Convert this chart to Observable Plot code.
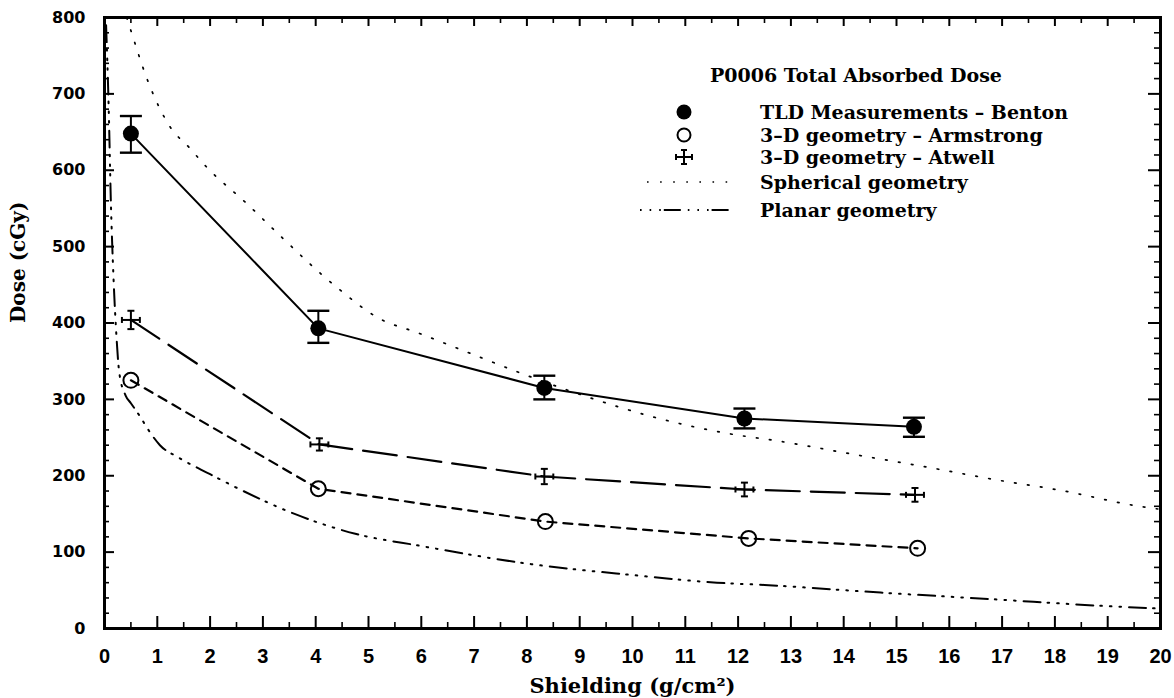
<!DOCTYPE html>
<html>
<head>
<meta charset="utf-8">
<script src="https://cdn.jsdelivr.net/npm/d3@7"></script>
<script src="https://cdn.jsdelivr.net/npm/@observablehq/plot@0.6"></script>
<style>
  html, body { margin: 0; padding: 0; background: #fff; }
  #chart { position: relative; width: 1174px; height: 698px; }
</style>
</head>
<body>
<div id="chart"></div>
<script>
// ---------- Data ----------
const legendTitle = "P0006 Total Absorbed Dose";
const seriesNames = ["TLD Measurements \u2013 Benton", "3\u2013D geometry \u2013 Armstrong", "3\u2013D geometry \u2013 Atwell", "Spherical geometry", "Planar geometry"];

// TLD measurements - Benton (with error bars)
const bentonX  = [0.5, 4.05, 8.33, 12.12, 15.33];
const bentonY  = [648, 393, 315, 275, 264];
const bentonLo = [623, 374, 300, 262, 251];
const bentonHi = [671, 416, 331, 288, 276];

// 3-D geometry - Armstrong
const armstrongX = [0.5, 4.05, 8.35, 12.2, 15.4];
const armstrongY = [325, 183, 140, 118, 105];

// 3-D geometry - Atwell (x and y error)
const atwellX  = [0.5, 4.07, 8.33, 12.12, 15.35];
const atwellY  = [404, 241, 199, 182, 175];
const atwellEy = [12, 8, 10, 9, 9];
const atwellEx = [0.17, 0.17, 0.17, 0.17, 0.17];

// Spherical geometry curve
const sphericalX = [0.42, 0.49, 0.82, 1.25, 1.6, 1.95, 2.7, 3.24, 4.36, 5.2, 5.94, 6.9, 7.86, 9.07, 10.5, 11.75, 12.8, 14.35, 15.6, 16.86, 18.1, 19.6, 20];
const sphericalY = [800, 785, 717, 656, 630, 603, 556, 520, 449, 406, 387, 361, 335, 305, 275, 256, 245, 226, 211, 195, 181, 160, 156];

// Planar geometry curve
const planarX = [0.03, 0.08, 0.12, 0.17, 0.22, 0.28, 0.4, 0.5, 0.65, 0.9, 1.05, 1.4, 2, 2.6, 3.6, 4.75, 6, 8, 10, 11.6, 12.5, 14.7, 16.9, 18.8, 20];
const planarY = [790, 680, 560, 460, 390, 335, 305, 295, 280, 253, 240, 224, 202, 181, 150, 124, 108, 85, 70, 60, 57, 47, 38, 30, 26];

// Tick values / labels
const xTickLabels = [0,1,2,3,4,5,6,7,8,9,10,11,12,13,14,15,16,17,18,19,20];
const yTickLabels = [0,100,200,300,400,500,600,700,800];

// ---------- Build tables ----------
const benton = bentonX.map((x, i) => ({x, y: bentonY[i], lo: bentonLo[i], hi: bentonHi[i]}));
const armstrong = armstrongX.map((x, i) => ({x, y: armstrongY[i]}));
const atwell = atwellX.map((x, i) => ({x, y: atwellY[i], ey: atwellEy[i], ex: atwellEx[i]}));
const spherical = sphericalX.map((x, i) => ({x, y: sphericalY[i]}));
const planar = planarX.map((x, i) => ({x, y: planarY[i]}));

const xMinor = d3.range(0, 20.001, 0.5).filter(v => !xTickLabels.includes(v));
const yMinor = d3.range(0, 800.001, 20).filter(v => !yTickLabels.includes(v));

const hCap = {draw(ctx, size) { const w = Math.sqrt(size / Math.PI); ctx.moveTo(-w, 0); ctx.lineTo(w, 0); }};
const vCap = {draw(ctx, size) { const w = Math.sqrt(size / Math.PI); ctx.moveTo(0, -w); ctx.lineTo(0, w); }};

const W = 1174, H = 698, mL = 104, mR = 14, mT = 17, mB = 70;
const plotW = W - mL - mR, plotH = H - mT - mB;
const tickFont = "DejaVu Sans";
const serif = "DejaVu Serif";

// inward tick marks: short rules anchored on one side of the frame
const xTicksAt = (vals, len, side, sw) => Plot.ruleX(vals, {x: d => d, stroke: "#000", strokeWidth: sw,
  ...(side === "bottom" ? {insetTop: plotH - len} : {insetBottom: plotH - len})});
const yTicksAt = (vals, len, side, sw) => Plot.ruleY(vals, {y: d => d, stroke: "#000", strokeWidth: sw,
  ...(side === "left" ? {insetRight: plotW - len} : {insetLeft: plotW - len})});

const chart = Plot.plot({
  width: W, height: H,
  marginLeft: mL, marginRight: mR, marginTop: mT, marginBottom: mB,
  style: {background: "#fff", color: "#000"},
  x: {domain: [0, 20]},
  y: {domain: [0, 800]},
  marks: [
    xTicksAt(xTickLabels, 12, "bottom", 2),
    xTicksAt(xMinor, 6, "bottom", 1.6),
    xTicksAt(xTickLabels, 9, "top", 2),
    xTicksAt(xMinor, 6, "top", 1.6),
    yTicksAt(yTickLabels, 10, "left", 2),
    yTicksAt(yMinor, 5, "left", 1.6),
    yTicksAt(yTickLabels, 12, "right", 2),
    yTicksAt(yMinor, 6, "right", 1.6),
    // tick labels
    Plot.axisX({anchor: "bottom", ticks: xTickLabels, tickSize: 0, tickPadding: 20, label: null,
      fontFamily: "Liberation Sans", fontWeight: "bold", fontSize: 20, tickFormat: d => String(d)}),
    Plot.axisY({anchor: "left", ticks: yTickLabels, tickSize: 0, tickPadding: 19, label: null,
      fontFamily: tickFont, fontWeight: "bold", fontSize: 16, tickFormat: d => String(d)}),
    // axis titles
    Plot.text(["Shielding (g/cm\u00B2)"], {frameAnchor: "bottom", dy: 58, text: d => d,
      fontFamily: serif, fontSize: 21, fontWeight: "bold", lineAnchor: "middle"}),
    Plot.text(["Dose (cGy)"], {frameAnchor: "left", dx: -86, rotate: -90, text: d => d,
      fontFamily: serif, fontSize: 20, fontWeight: "bold", lineAnchor: "middle"}),
    // model curves
    Plot.line(spherical, {x: "x", y: "y", stroke: "#000", strokeWidth: 1.7, strokeDasharray: "1.6,11.5", curve: "monotone-x", clip: true}),
    Plot.line(planar, {x: "x", y: "y", stroke: "#000", strokeWidth: 2, strokeDasharray: "17,7,1.6,8,1.6,8,1.6,8", curve: "monotone-x", clip: true}),
    // Armstrong
    Plot.line(armstrong, {x: "x", y: "y", stroke: "#000", strokeWidth: 2.2, strokeDasharray: "9,7"}),
    Plot.dot(armstrong, {x: "x", y: "y", r: 7.5, stroke: "#000", strokeWidth: 2, fill: "none"}),
    // Atwell
    Plot.line(atwell, {x: "x", y: "y", stroke: "#000", strokeWidth: 2.2, strokeDasharray: "34,11"}),
    Plot.ruleX(atwell, {x: "x", y1: d => d.y - d.ey, y2: d => d.y + d.ey, stroke: "#000", strokeWidth: 2}),
    Plot.link(atwell, {x1: d => d.x - d.ex, x2: d => d.x + d.ex, y1: "y", y2: "y", stroke: "#000", strokeWidth: 2}),
    Plot.dot(atwell, {x: "x", y: d => d.y - d.ey, symbol: hCap, r: 3.5, stroke: "#000", strokeWidth: 2, fill: "none"}),
    Plot.dot(atwell, {x: "x", y: d => d.y + d.ey, symbol: hCap, r: 3.5, stroke: "#000", strokeWidth: 2, fill: "none"}),
    Plot.dot(atwell, {x: d => d.x - d.ex, y: "y", symbol: vCap, r: 3, stroke: "#000", strokeWidth: 2, fill: "none"}),
    Plot.dot(atwell, {x: d => d.x + d.ex, y: "y", symbol: vCap, r: 3, stroke: "#000", strokeWidth: 2, fill: "none"}),
    // Benton
    Plot.line(benton, {x: "x", y: "y", stroke: "#000", strokeWidth: 2}),
    Plot.ruleX(benton, {x: "x", y1: "lo", y2: "hi", stroke: "#000", strokeWidth: 2}),
    Plot.dot(benton, {x: "x", y: "lo", symbol: hCap, r: 11, stroke: "#000", strokeWidth: 2.4, fill: "none"}),
    Plot.dot(benton, {x: "x", y: "hi", symbol: hCap, r: 11, stroke: "#000", strokeWidth: 2.4, fill: "none"}),
    Plot.dot(benton, {x: "x", y: "y", r: 8, fill: "#000", stroke: "none"}),
    Plot.frame({stroke: "#000", strokeWidth: 3})
  ]
});

document.getElementById("chart").appendChild(chart);

// ---------- Legend (drawn into the same SVG) ----------
const svg = d3.select(chart);
const lg = svg.append("g").attr("font-family", serif).attr("font-size", 19).attr("font-weight", "bold")
  .attr("fill", "#000").attr("text-anchor", "start");
lg.append("text").attr("x", 710).attr("y", 75).attr("dy", "0.35em").text(legendTitle);
const rowsY = [112, 135, 157, 182, 210];
seriesNames.forEach((name, i) => {
  lg.append("text").attr("x", 760).attr("y", rowsY[i]).attr("dy", "0.35em").text(name);
});
lg.append("circle").attr("cx", 684).attr("cy", rowsY[0]).attr("r", 7.5).attr("fill", "#000");
lg.append("circle").attr("cx", 684).attr("cy", rowsY[1]).attr("r", 6.5).attr("fill", "none").attr("stroke", "#000").attr("stroke-width", 2);
const cx = 684, cy = rowsY[2];
lg.append("path").attr("fill", "none").attr("stroke", "#000").attr("stroke-width", 2)
  .attr("d", `M${cx},${cy-7}V${cy+7}M${cx-3},${cy-7}H${cx+3}M${cx-3},${cy+7}H${cx+3}M${cx-8},${cy}H${cx+8}M${cx-8},${cy-3}V${cy+3}M${cx+8},${cy-3}V${cy+3}`);
lg.append("line").attr("x1", 647).attr("x2", 730).attr("y1", rowsY[3]).attr("y2", rowsY[3])
  .attr("stroke", "#000").attr("stroke-width", 1.7).attr("stroke-dasharray", "1.6,11.5");
lg.append("line").attr("x1", 640).attr("x2", 729).attr("y1", rowsY[4]).attr("y2", rowsY[4])
  .attr("stroke", "#000").attr("stroke-width", 2).attr("stroke-dasharray", "1.6,8,1.6,8,1.6,3,17,7,1.6,8,1.6,8,1.6,3,17");
</script>
</body>
</html>
